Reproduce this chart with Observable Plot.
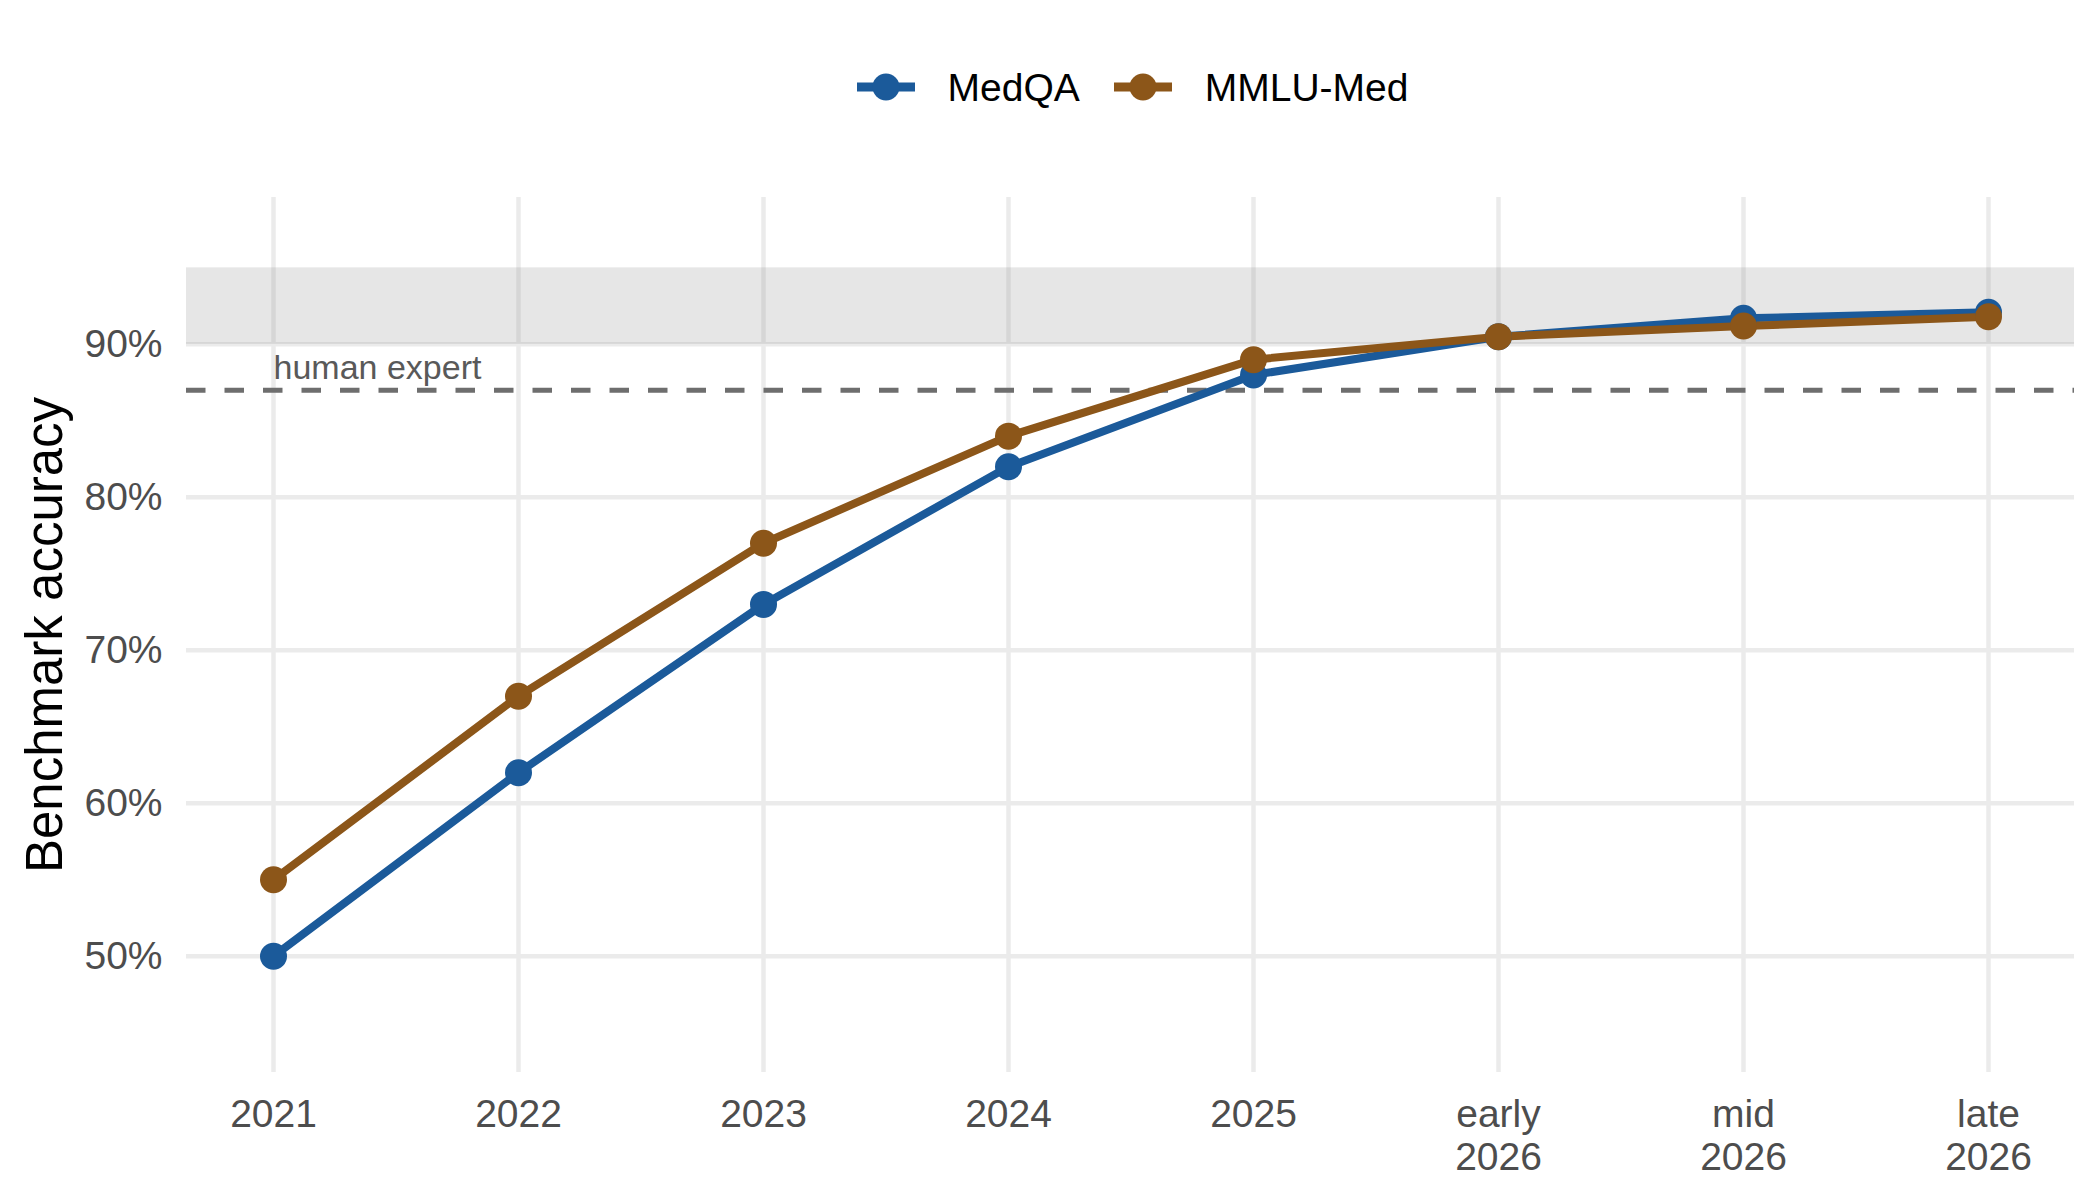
<!DOCTYPE html>
<html>
<head>
<meta charset="utf-8">
<script src="https://cdn.jsdelivr.net/npm/d3@7"></script>
<script src="https://cdn.jsdelivr.net/npm/@observablehq/plot@0.6"></script>
<style>
  html, body { margin: 0; padding: 0; background: #ffffff; }
  body { width: 2100px; height: 1200px; overflow: hidden; font-family: "Liberation Sans", Arial, sans-serif; }
  #legend { box-sizing: border-box; width: 2100px; height: 150px; padding-top: 24px; padding-left: 165px;
            display: flex; align-items: center; justify-content: center; }
  .item { display: flex; align-items: center; }
  .item + .item { margin-left: 34px; }
  .item span { margin-left: 33px; font-size: 39px; color: #000; line-height: 1; }
</style>
</head>
<body>
<div id="legend"></div>
<div id="chart"></div>
<script>
// ---- data ----
const periods = ["2021", "2022", "2023", "2024", "2025", "early\n2026", "mid\n2026", "late\n2026"];
const seriesNames = ["MedQA", "MMLU-Med"];
const medqa = [50, 62, 73, 82, 88, 90.5, 91.7, 92.1];
const mmluMed = [55, 67, 77, 84, 89, 90.5, 91.2, 91.8];
const seriesColors = ["#1b5a9a", "#8c5619"];
const yTicks = [50, 60, 70, 80, 90];
const bandLow = [90];
const bandHigh = [95];
const humanExpert = [87];
const humanExpertLabel = ["human expert"];
const yTitle = ["Benchmark accuracy"];

// ---- build table ----
const rows = [];
[medqa, mmluMed].forEach((vals, s) => {
  vals.forEach((v, i) => rows.push({ series: seriesNames[s], period: periods[i], value: v }));
});
const band = bandLow.map((lo, i) => ({ lo, hi: bandHigh[i] }));
const annot = humanExpert.map((v, i) => ({ period: periods[0], value: v, label: humanExpertLabel[i] }));

// ---- legend ----
const legend = document.getElementById("legend");
seriesNames.forEach((name, i) => {
  const item = document.createElement("div");
  item.className = "item";
  item.innerHTML = `<svg width="58" height="30"><line x1="0" x2="58" y1="15" y2="15" stroke="${seriesColors[i]}" stroke-width="9"/><circle cx="29" cy="15" r="13.5" fill="${seriesColors[i]}"/></svg><span>${name}</span>`;
  legend.appendChild(item);
});

// ---- chart ----
const chart = Plot.plot({
  width: 2100,
  height: 1050,
  marginTop: 47,
  marginBottom: 128,
  marginLeft: 186,
  marginRight: 26,
  style: { fontFamily: "'Liberation Sans', Arial, sans-serif", color: "#4d4d4d", background: "#ffffff", overflow: "visible" },
  x: { type: "point", domain: periods, padding: 0.35, axis: null },
  y: { domain: [42.4, 99.6], axis: null },
  color: { domain: seriesNames, range: seriesColors },
  marks: [
    Plot.gridX(periods, { stroke: "#ebebeb", strokeOpacity: 1, strokeWidth: 4.5 }),
    Plot.gridY(yTicks, { stroke: "#ebebeb", strokeOpacity: 1, strokeWidth: 4.5 }),
    Plot.rect(band, { y1: "lo", y2: "hi", fill: "#808080", fillOpacity: 0.2 }),
    Plot.ruleY(humanExpert, { stroke: "#6e6e6e", strokeWidth: 5, strokeDasharray: "19.5,19" }),
    Plot.text(annot, { x: "period", y: "value", text: "label", textAnchor: "start", lineAnchor: "bottom", dy: -11, fontSize: 34, fill: "#595959" }),
    Plot.axisX(periods, { tickSize: 0, tickPadding: 24, fontSize: 39, lineHeight: 1.1, label: null }),
    Plot.axisY(yTicks, { tickSize: 0, tickPadding: 24, fontSize: 39, tickFormat: d => d + "%", label: null }),
    Plot.text(yTitle, { frameAnchor: "left", rotate: -90, dx: -141, textAnchor: "middle", lineAnchor: "middle", fontSize: 51, fill: "#000000", text: d => d }),
    Plot.line(rows, { x: "period", y: "value", stroke: "series", z: "series", strokeWidth: 8, strokeLinejoin: "round", strokeLinecap: "round" }),
    Plot.dot(rows, { x: "period", y: "value", fill: "series", r: 13.5, stroke: "none" })
  ]
});
document.getElementById("chart").appendChild(chart);
</script>
</body>
</html>
